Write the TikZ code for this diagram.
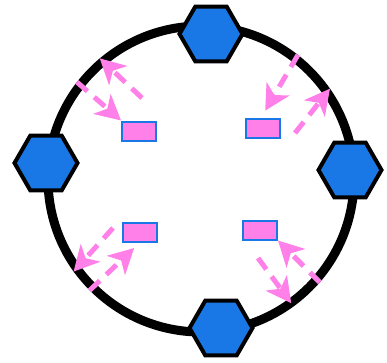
\documentclass[tikz,border=0pt]{standalone}
\usetikzlibrary{arrows.meta,shapes.geometric}
\definecolor{hexblue}{RGB}{26,120,230}
\definecolor{flowpink}{RGB}{255,128,232}

\begin{document}
\begin{tikzpicture}[x=1pt, y=-1pt,
  hexnode/.style={draw, line width=4pt, fill=hexblue, regular polygon, regular polygon sides=6, minimum size=63pt, inner sep=0pt},
  slot/.style={draw=hexblue, line width=2pt, fill=flowpink, minimum width=34pt, minimum height=19pt, inner sep=0pt},
  flow/.style={draw=flowpink, line width=5pt, dash pattern=on 14pt off 9pt, -{Stealth[length=25pt, width=26pt, inset=7pt]}}]
  \useasboundingbox (0,0) rectangle (387,362);

  % ring and the four hexagons on it
  \node[draw, circle, line width=9pt, minimum size=306pt] (ring) at (201,179) {};
  \node[hexnode] (hexTop) at (211,34) {};
  \node[hexnode] (hexLeft) at (46,163) {};
  \node[hexnode] (hexRight) at (350,170) {};
  \node[hexnode] (hexBottom) at (221,328) {};

  % slots inside the ring
  \node[slot] (slotTL) at (139,131) {};
  \node[slot] (slotTR) at (263,128) {};
  \node[slot] (slotBL) at (140,232) {};
  \node[slot] (slotBR) at (260,230) {};

  % start points of the outgoing flows
  \coordinate (outTL) at (142,98);
  \coordinate (outTR) at (295,133);
  \coordinate (outBL) at (113,228);
  \coordinate (outBR) at (258,258);

  \draw[flow] (outTL) -- (ring.130);
  \draw[flow] (ring.142) -- (slotTL.north west);
  \draw[flow] (outTR) -- (ring.35);
  \draw[flow, shorten >=8pt] (ring.52) -- (slotTR.100);
  \draw[flow] (outBL) -- (ring.216);
  \draw[flow, shorten >=8pt] (ring.225) -- (slotBL.south);
  \draw[flow, shorten >=4pt] (outBR) -- (ring.-54);
  \draw[flow] (ring.-41) -- (slotBR.south east);
\end{tikzpicture}
\end{document}
